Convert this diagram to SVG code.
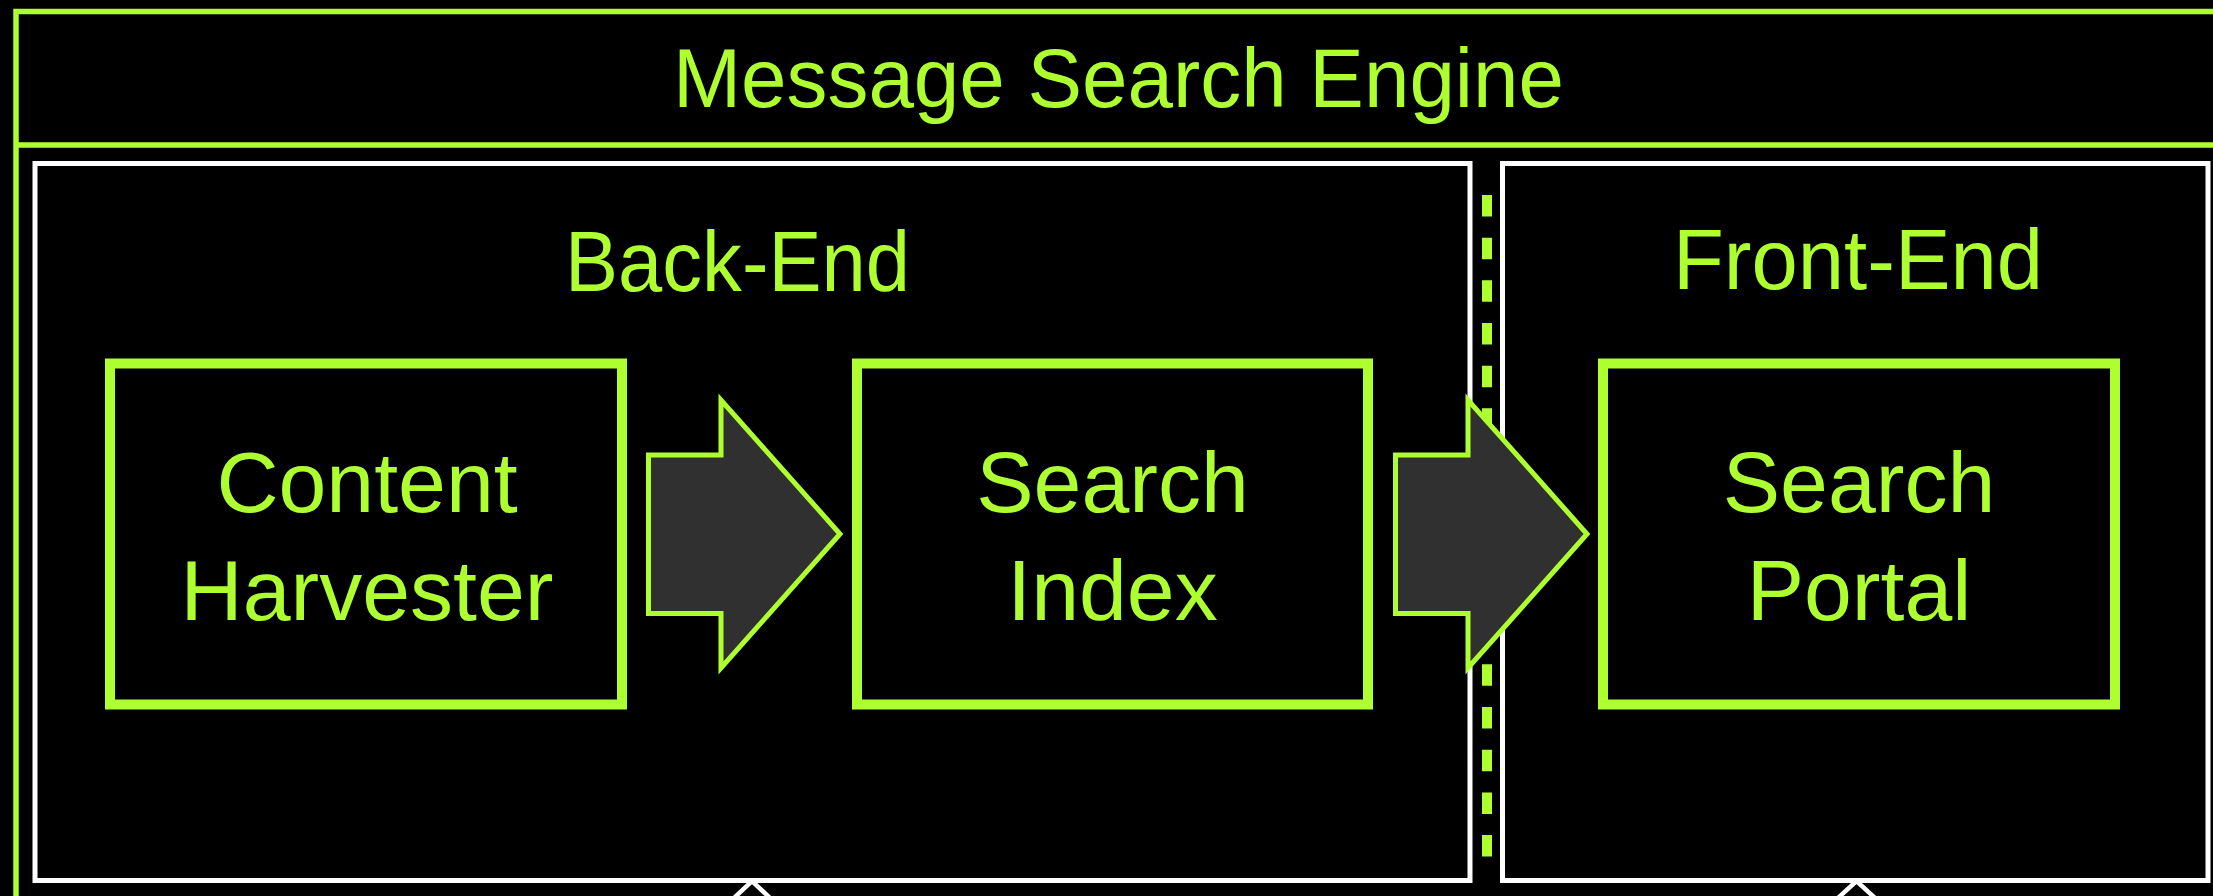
<svg xmlns="http://www.w3.org/2000/svg" width="2213" height="896" viewBox="0 0 2213 896">
<style>
.frame{fill:none;stroke:#ADFF2F;stroke-width:5.5}
.zone{fill:none;stroke:#FFFFFF;stroke-width:5}
.box{fill:#000000;stroke:#ADFF2F;stroke-width:10}
.lbl{font-family:"Liberation Sans",Arial,Helvetica,sans-serif;fill:#ADFF2F;font-size:86px;text-anchor:middle}
.blk{fill:#303030;stroke:#ADFF2F;stroke-width:5;stroke-linejoin:miter}
.sep{stroke:#ADFF2F;stroke-width:10;stroke-dasharray:21.5 21.17}
.tip{fill:none;stroke:#FFFFFF;stroke-width:4.5}
</style>
<rect x="0" y="0" width="2213" height="896" fill="#000000"/>
<g id="engine">
<rect class="frame" x="16" y="11.5" width="2400" height="1000"/>
<line x1="16" y1="145" x2="2213" y2="145" stroke="#ADFF2F" stroke-width="5.5"/>
<text class="lbl" x="1118.5" y="106.5" font-size="84" style="font-size:84px" textLength="891" lengthAdjust="spacingAndGlyphs">Message Search Engine</text>
</g>
<g id="back-end">
<rect class="zone" x="35" y="163.5" width="1435" height="717"/>
<text class="lbl" x="737.5" y="290.5" textLength="345" lengthAdjust="spacingAndGlyphs">Back-End</text>
</g>
<g id="front-end">
<rect class="zone" x="1502.5" y="163.5" width="705.5" height="717"/>
<text class="lbl" x="1858" y="289" textLength="370" lengthAdjust="spacingAndGlyphs">Front-End</text>
</g>
<g id="content-harvester">
<rect class="box" x="110" y="363.5" width="512" height="341"/>
<text class="lbl" x="367" y="512">Content</text>
<text class="lbl" x="367" y="620">Harvester</text>
</g>
<g id="search-index">
<rect class="box" x="857" y="363.5" width="511" height="341"/>
<text class="lbl" x="1112.5" y="512">Search</text>
<text class="lbl" x="1112.5" y="620">Index</text>
</g>
<g id="search-portal">
<rect class="box" x="1603" y="363.5" width="512" height="341"/>
<text class="lbl" x="1859" y="512">Search</text>
<text class="lbl" x="1859" y="620">Portal</text>
</g>
<g id="connectors">
<line class="sep" x1="1487" y1="195" x2="1487" y2="857"/>
<polygon class="blk" points="648.5,455 721,455 721,400 840,534 721,668 721,613.5 648.5,613.5"/>
<polygon class="blk" points="1395.5,455 1468,455 1468,400 1587,534 1468,668 1468,613.5 1395.5,613.5"/>
<polyline class="tip" points="734,898 752,881 770,898"/>
<polyline class="tip" points="1838,898 1856.5,881 1875,898"/>
</g>
</svg>
